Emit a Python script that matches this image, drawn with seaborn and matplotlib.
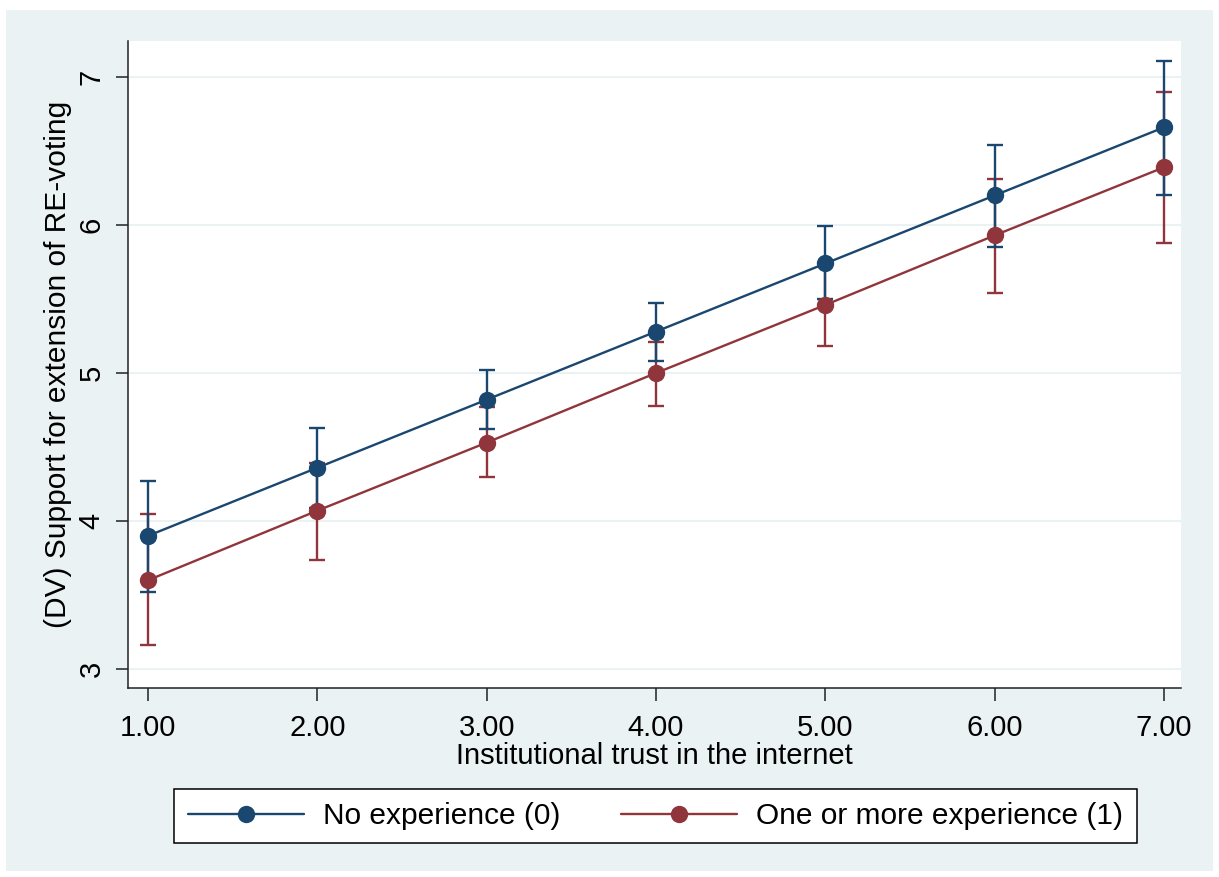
import matplotlib
matplotlib.use("Agg")
import matplotlib.pyplot as plt
import seaborn as sns
import pandas as pd
import numpy as np
from matplotlib.patches import Rectangle

# ---- data ----
trust = [1, 2, 3, 4, 5, 6, 7]
groups = ["No experience (0)", "One or more experience (1)"]
no_exp_mean = [3.90, 4.36, 4.82, 5.28, 5.74, 6.20, 6.66]
no_exp_lo = [3.52, 4.09, 4.62, 5.08, 5.50, 5.85, 6.20]
no_exp_hi = [4.27, 4.63, 5.02, 5.47, 5.99, 6.54, 7.11]
one_exp_mean = [3.60, 4.07, 4.53, 5.00, 5.46, 5.93, 6.39]
one_exp_lo = [3.16, 3.74, 4.30, 4.78, 5.18, 5.54, 5.88]
one_exp_hi = [4.05, 4.39, 4.77, 5.21, 5.74, 6.31, 6.90]
xtick_labels = ["1.00", "2.00", "3.00", "4.00", "5.00", "6.00", "7.00"]
ytick_values = [3, 4, 5, 6, 7]

BLUE = "#1A476F"
RED = "#90353B"
BG = "#EAF2F3"
FS = 21

sns.set_theme(style="white")
plt.rcParams["font.family"] = ["Liberation Sans", "DejaVu Sans"]
plt.rcParams["text.color"] = "black"

df = pd.DataFrame({
    "x": trust * 2,
    "y": no_exp_mean + one_exp_mean,
    "group": [groups[0]] * 7 + [groups[1]] * 7,
})

W, H = 1219, 877
fig = plt.figure(figsize=(W / 100, H / 100), dpi=100, facecolor="white")
fig.patches.append(Rectangle((6 / W, (H - 871) / H), (1213 - 6) / W, (871 - 10) / H,
                             transform=fig.transFigure, facecolor=BG, edgecolor="none", zorder=-10))

L, R, T, B = 128, 1181, 41, 688
ax = fig.add_axes([L / W, (H - B) / H, (R - L) / W, (B - T) / H])
ax.set_facecolor("white")

# confidence intervals
for mean, lo, hi, col in [(one_exp_mean, one_exp_lo, one_exp_hi, RED),
                          (no_exp_mean, no_exp_lo, no_exp_hi, BLUE)]:
    m = np.array(mean)
    ax.errorbar(trust, m, yerr=[m - np.array(lo), np.array(hi) - m], fmt="none",
                ecolor=col, elinewidth=1.7, capsize=6, capthick=1.7, zorder=2)

sns.lineplot(data=df, x="x", y="y", hue="group", hue_order=groups,
             palette=[BLUE, RED], marker="o", markersize=12.5, markeredgewidth=0,
             linewidth=1.7, ax=ax, zorder=3)

handles, labels = ax.get_legend_handles_labels()
ax.get_legend().remove()

ax.set_xlim(0.882, 7.10)
ax.set_ylim(2.872, 7.243)
ax.set_xticks(trust)
ax.set_xticklabels(xtick_labels)
ax.set_yticks(ytick_values)
ax.set_yticklabels([str(v) for v in ytick_values])
for lab in ax.get_yticklabels():
    lab.set_rotation(90)
    lab.set_va("center")

ax.grid(axis="y", color=BG, linewidth=1.5)
ax.grid(axis="x", visible=False)
ax.set_axisbelow(True)

for s in ["top", "right"]:
    ax.spines[s].set_visible(False)
for s in ["left", "bottom"]:
    ax.spines[s].set_color("#222222")
    ax.spines[s].set_linewidth(1.1)

ax.tick_params(axis="both", direction="out", length=9, width=1.1, color="#222222",
               labelsize=FS, labelcolor="black")
ax.tick_params(axis="x", bottom=True, pad=10)
ax.tick_params(axis="y", left=True, pad=7)

ax.set_xlabel("Institutional trust in the internet", fontsize=FS, color="black", labelpad=0)
ax.set_ylabel("(DV) Support for extension of RE-voting", fontsize=21.5, color="black", labelpad=4)

leg = fig.legend(handles, labels, loc="center", ncol=2,
                 bbox_to_anchor=((170 + 1141) / 2 / W, 1 - 816 / H),
                 frameon=True, fancybox=False, edgecolor="black", facecolor="white",
                 framealpha=1.0, fontsize=21.5, handlelength=3.9, columnspacing=2.0,
                 borderpad=0.45, handletextpad=0.65)
leg.get_frame().set_linewidth(1.1)

fig.savefig("out.png", dpi=100, facecolor="white")
